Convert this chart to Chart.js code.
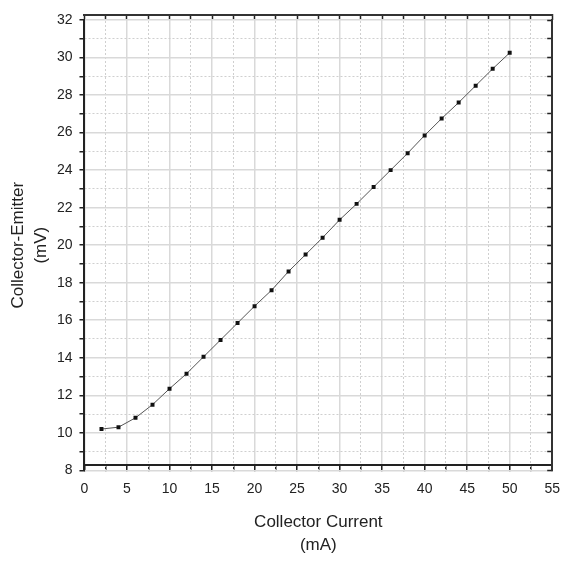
<!DOCTYPE html>
<html>
<head>
<meta charset="utf-8">
<script src="https://cdn.jsdelivr.net/npm/chart.js@4"></script>
<style>
  html, body { margin: 0; padding: 0; background: #fff; }
  #wrap { width: 561px; height: 563px; }
</style>
</head>
<body>
<div id="wrap"><canvas id="chart"></canvas></div>
<script>
// collector current (mA) and collector-emitter voltage (mV)
const currents = [2, 4, 6, 8, 10, 12, 14, 16, 18, 20, 22, 24, 26,
                  28, 30, 32, 34, 36, 38, 40, 42, 44, 46, 48, 50];
const voltages = [10.2, 10.3, 10.8, 11.5, 12.35, 13.15, 14.05, 14.95, 15.85, 16.75, 17.6, 18.6, 19.5,
                  20.4, 21.35, 22.2, 23.1, 24.0, 24.9, 25.85, 26.75, 27.6, 28.5, 29.4, 30.25];

const xRange = [0, 55];
const yRange = [8, 32];
const xTitle = ["Collector Current", "(mA)"];
const yTitle = ["Collector-Emitter", "(mV)"];

const FONT = "'Liberation Sans', Arial, sans-serif";
const majorGrid = "#d9d9d9";
const minorGrid = "#cfcfcf";

function isMajorX(v) { return Math.abs(v % 5) < 1e-6; }
function isMajorY(v) { return Math.abs(v % 2) < 1e-6; }

const points = currents.map((c, i) => ({ x: c, y: voltages[i] }));

new Chart(document.getElementById("chart"), {
    type: "scatter",
    data: {
        datasets: [{
            data: points,
            showLine: true,
            borderColor: "#555",
            borderWidth: 1,
            backgroundColor: "#111",
            pointStyle: "rect",
            pointRadius: 2.8,
            pointBorderWidth: 0,
            pointHoverRadius: 2.8
        }]
    },
    options: {
        animation: false,
        responsive: true,
        maintainAspectRatio: false,
        layout: { padding: { left: 7, right: 0, top: 20, bottom: 1 } },
        plugins: { legend: { display: false }, tooltip: { enabled: false } },
        scales: {
            x: {
                type: "linear",
                position: "bottom",
                min: xRange[0],
                max: xRange[1],
                ticks: {
                    stepSize: 2.5,
                    autoSkip: false,
                    maxRotation: 0,
                    color: "#222",
                    // tall line box pushes labels down without widening the right overhang
                    font: { family: FONT, size: 14, lineHeight: 2.34 },
                    padding: 1,
                    callback: v => isMajorX(v) ? v : ""
                },
                grid: {
                    color: ctx => isMajorX(ctx.tick.value) ? majorGrid : "rgba(0,0,0,0)",
                    lineWidth: 1.5,
                    tickColor: "#222",
                    tickWidth: 1.5,
                    tickLength: 6
                },
                border: { color: "#222", width: 2 },
                title: {
                    display: true,
                    text: xTitle,
                    color: "#222",
                    font: { family: FONT, size: 17, lineHeight: 1.35 },
                    padding: { top: 5, bottom: 0 }
                }
            },
            x2: {
                type: "linear",
                position: "top",
                min: xRange[0],
                max: xRange[1],
                ticks: { stepSize: 2.5, autoSkip: false, display: false },
                grid: {
                    color: ctx => isMajorX(ctx.tick.value) ? "rgba(0,0,0,0)" : minorGrid,
                    lineWidth: 1,
                    tickColor: "#222",
                    tickWidth: 1.5,
                    tickLength: -5
                },
                border: { color: "#333", width: 2, dash: [2, 2] }
            },
            y: {
                type: "linear",
                position: "left",
                min: yRange[0],
                max: yRange[1],
                ticks: {
                    stepSize: 1,
                    autoSkip: false,
                    color: "#222",
                    font: { family: FONT, size: 14 },
                    padding: 7,
                    callback: v => isMajorY(v) ? v : ""
                },
                grid: {
                    color: ctx => isMajorY(ctx.tick.value) ? majorGrid : "rgba(0,0,0,0)",
                    lineWidth: 1.5,
                    tickColor: "#222",
                    tickWidth: 1.5,
                    tickLength: 5
                },
                border: { color: "#222", width: 2 },
                title: {
                    display: true,
                    text: yTitle,
                    color: "#222",
                    font: { family: FONT, size: 17, lineHeight: 1.35 },
                    padding: { top: 0, bottom: -3 }
                }
            },
            y2: {
                type: "linear",
                position: "right",
                min: yRange[0],
                max: yRange[1],
                ticks: { stepSize: 1, autoSkip: false, display: false },
                grid: {
                    color: ctx => isMajorY(ctx.tick.value) ? "rgba(0,0,0,0)" : minorGrid,
                    lineWidth: 1,
                    tickColor: "#222",
                    tickWidth: 1.5,
                    tickLength: -5
                },
                border: { color: "#333", width: 2, dash: [2, 2] }
            }
        }
    }
});
</script>
</body>
</html>
